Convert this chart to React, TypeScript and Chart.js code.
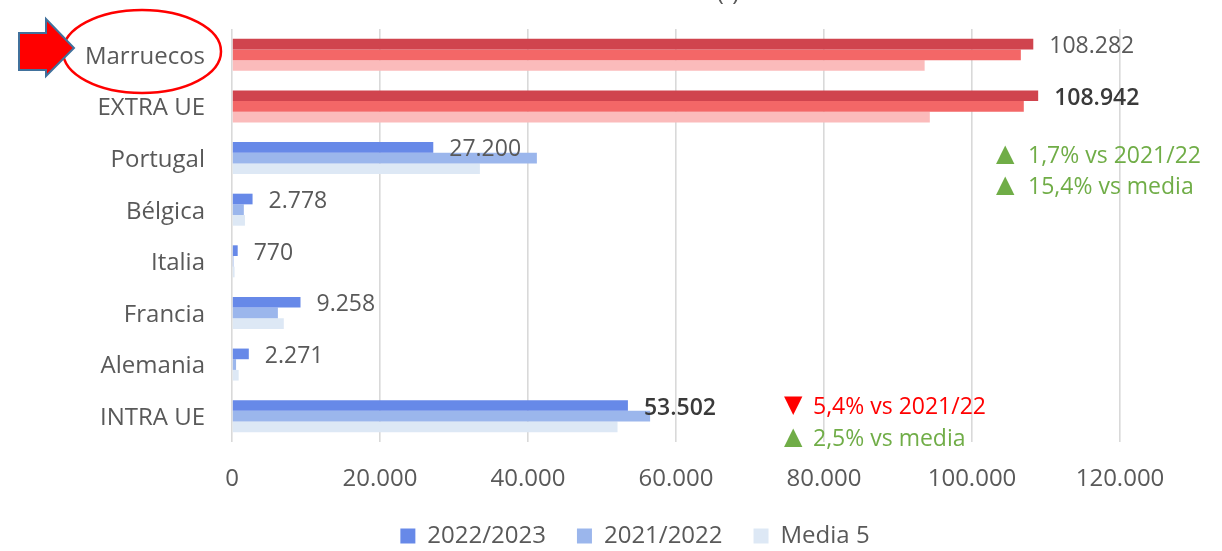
import { useEffect, useRef } from "react";
import { Chart, registerables } from "chart.js";

Chart.register(...registerables);

const CATEGORIES = ["Marruecos", "EXTRA UE", "Portugal", "Bélgica", "Italia", "Francia", "Alemania", "INTRA UE"];
const SERIES_NAMES = ["2022/2023", "2021/2022", "Media 5"];
const VALUES_2022_2023 = [108282, 108942, 27200, 2778, 770, 9258, 2271, 53502];
const VALUES_2021_2022 = [106600, 107000, 41200, 1600, 200, 6200, 550, 56500];
const VALUES_MEDIA_5 = [93600, 94300, 33500, 1750, 350, 7000, 900, 52100];
const X_MIN = 0;
const X_MAX = 120000;
const X_STEP = 20000;
const HIGHLIGHTED = ["Marruecos", "EXTRA UE"];
const DARK_LABELS = ["EXTRA UE", "INTRA UE"];
const NOTES_EXTRA = [
  { up: true, text: "1,7% vs 2021/22" },
  { up: true, text: "15,4% vs media" },
];
const NOTES_INTRA = [
  { up: false, text: "5,4% vs 2021/22" },
  { up: true, text: "2,5% vs media" },
];
const TITLE_FRAGMENT = "(t)";

const BLUES = ["#6789E8", "#9BB6EC", "#DDE8F5"];
const REDS = ["#D0444E", "#F36767", "#FBBBBB"];
const GREEN = "#70AD47";
const RED = "#FF0000";
const TEXT = "#595959";
const FONT = "'Open Sans', sans-serif";

const fmt = (n: number) => String(Math.round(n)).replace(/\B(?=(\d{3})+(?!\d))/g, ".");

const annotationPlugin = {
  id: "annotations",
  afterLayout(chart: any) {
    // centre the legend under the plot as in the reference
    const lg = chart.legend;
    if (lg) {
      lg.left += 75;
      lg.right += 75;
    }
  },
  afterDatasetsDraw(chart: any) {
    const ctx = chart.ctx;
    const meta = chart.getDatasetMeta(0);
    ctx.save();
    ctx.textBaseline = "middle";
    ctx.textAlign = "left";
    meta.data.forEach((bar: any, i: number) => {
      const dark = DARK_LABELS.includes(CATEGORIES[i]);
      ctx.fillStyle = dark ? "#3A3A3A" : TEXT;
      ctx.font = `${dark ? "600 " : ""}23px ${FONT}`;
      ctx.fillText(fmt(VALUES_2022_2023[i]), bar.x + 16, bar.y + 2.5);
    });
    ctx.restore();
  },
  afterDraw(chart: any) {
    const ctx = chart.ctx;
    ctx.save();
    // title fragment (cut off at top)
    ctx.fillStyle = TEXT;
    ctx.font = `24px ${FONT}`;
    ctx.textAlign = "center";
    ctx.textBaseline = "alphabetic";
    ctx.fillText(TITLE_FRAGMENT, 728, 0);

    // notes
    const drawNotes = (notes: any[], triX: number, textX: number, y0: number, dy: number) => {
      notes.forEach((n, k) => {
        const y = y0 + k * dy;
        const color = n.up ? GREEN : RED;
        ctx.fillStyle = color;
        ctx.textAlign = "left";
        ctx.textBaseline = "middle";
        ctx.font = `24px 'DejaVu Sans', sans-serif`;
        ctx.fillText(n.up ? "▲" : "▼", triX - 1, y);
        ctx.font = `23px ${FONT}`;
        ctx.fillText(n.text, textX, y + 1);
      });
    };
    drawNotes(NOTES_EXTRA, 997, 1028, 155, 31);
    drawNotes(NOTES_INTRA, 785, 813, 406, 32);

    // ellipse around Marruecos
    ctx.beginPath();
    ctx.ellipse(142, 51.5, 79, 41.5, 0, 0, Math.PI * 2);
    ctx.strokeStyle = RED;
    ctx.lineWidth = 2.5;
    ctx.stroke();

    // arrow
    ctx.beginPath();
    ctx.moveTo(19, 33);
    ctx.lineTo(46, 33);
    ctx.lineTo(46, 19);
    ctx.lineTo(74, 48);
    ctx.lineTo(46, 76);
    ctx.lineTo(46, 70);
    ctx.lineTo(19, 70);
    ctx.closePath();
    ctx.fillStyle = RED;
    ctx.fill();
    ctx.strokeStyle = "#41719C";
    ctx.lineWidth = 2;
    ctx.lineJoin = "miter";
    ctx.stroke();
    ctx.restore();
  },
};

export default function App() {
  const ref = useRef<HTMLCanvasElement | null>(null);
  useEffect(() => {
    if (!ref.current) return;
    Chart.defaults.font.family = FONT;
    const colorFor = (series: number) => (c: any) =>
      HIGHLIGHTED.includes(CATEGORIES[c.dataIndex]) ? REDS[series] : BLUES[series];
    const seriesValues = [VALUES_2022_2023, VALUES_2021_2022, VALUES_MEDIA_5];
    const chart = new Chart(ref.current, {
      type: "bar",
      data: {
        labels: CATEGORIES,
        datasets: SERIES_NAMES.map((name, s) => ({
          label: name,
          data: seriesValues[s],
          backgroundColor: colorFor(s),
          borderWidth: 0,
          barPercentage: 1,
          categoryPercentage: 0.62,
        })),
      },
      options: {
        indexAxis: "y",
        responsive: false,
        animation: false,
        devicePixelRatio: 1,
        layout: { padding: { top: 29, right: 102, left: 0, bottom: -7 } },
        scales: {
          x: {
            min: X_MIN,
            max: X_MAX,
            ticks: {
              stepSize: X_STEP,
              color: TEXT,
              font: { size: 24 },
              padding: 23,
              callback: (v: any) => fmt(Number(v)),
            },
            grid: { color: "#D9D9D9", lineWidth: 1.6, drawTicks: false },
            border: { display: false },
            afterFit: (scale: any) => {
              scale.height = 51;
            },
          },
          y: {
            ticks: { color: TEXT, font: { size: 24 }, padding: 27, labelOffset: 2 },
            grid: { display: false, drawTicks: false },
            border: { display: false },
            afterFit: (scale: any) => {
              scale.width = 232;
              scale.paddingTop = 0;
              scale.paddingBottom = 0;
            },
          },
        },
        plugins: {
          tooltip: { enabled: false },
          legend: {
            position: "bottom",
            labels: {
              color: TEXT,
              font: { size: 24 },
              boxWidth: 15,
              boxHeight: 15,
              padding: 31,
              generateLabels: () =>
                SERIES_NAMES.map((name, s) => ({
                  text: name,
                  fillStyle: BLUES[s],
                  strokeStyle: BLUES[s],
                  lineWidth: 0,
                  fontColor: TEXT,
                  hidden: false,
                  datasetIndex: s,
                })),
            },
          },
        },
      },
      plugins: [annotationPlugin],
    } as any);
    return () => chart.destroy();
  }, []);
  return (
    <div style={{ position: "absolute", left: 0, top: 0, width: 1222, height: 551, background: "#fff" }}>
      <canvas ref={ref} width={1222} height={551} style={{ display: "block" }} />
    </div>
  );
}
